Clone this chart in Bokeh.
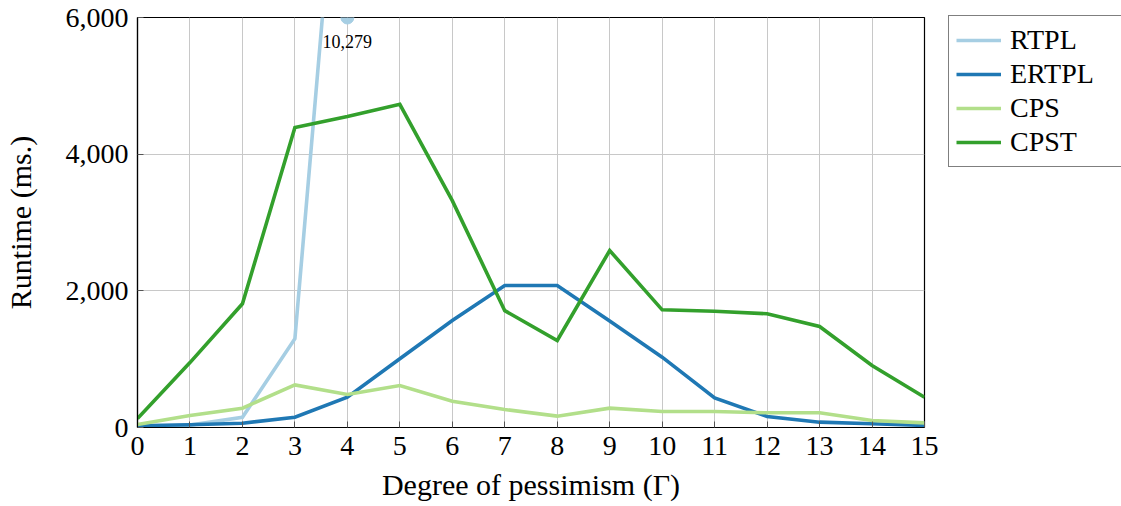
from bokeh.plotting import figure
from bokeh.models import Range1d, NumeralTickFormatter, FixedTicker, Legend, LegendItem, ColumnDataSource
from bokeh.embed import file_html
from bokeh.resources import INLINE
from bokeh.core.properties import value

# ---- data ----
gamma = list(range(16))
rtpl_gamma = [0, 1, 2, 3, 4]
rtpl = [10, 35, 150, 1300, 10279]
ertpl = [25, 40, 63, 151, 443, 1005, 1566, 2078, 2078, 1560, 1029, 434, 161, 78, 54, 30]
cps = [44, 175, 283, 624, 483, 615, 385, 263, 166, 283, 234, 234, 215, 215, 102, 68]
cpst = [130, 950, 1810, 4390, 4550, 4730, 3320, 1710, 1273, 2590, 1722, 1702, 1664, 1478, 907, 443]
y_ticks = [0, 2000, 4000, 6000]
x_ticks = list(range(16))
y_max = 6000

colors = {"RTPL": "#a6cee3", "ERTPL": "#1f78b4", "CPS": "#b2df8a", "CPST": "#33a02c"}
FONT = "Liberation Serif"

p = figure(width=1121, height=506, output_backend="svg", toolbar_location=None,
           x_range=Range1d(0, 15), y_range=Range1d(0, y_max),
           frame_width=787, frame_height=410,
           min_border_left=137, min_border_top=17, min_border_bottom=79, min_border_right=0)

p.outline_line_color = "black"
p.outline_line_width = 1.2
p.background_fill_color = "white"
p.border_fill_color = "white"

for ax in (p.xaxis[0], p.yaxis[0]):
    ax.axis_line_color = "black"
    ax.axis_line_width = 1.2
    ax.major_tick_in = 6
    ax.major_tick_out = 0
    ax.minor_tick_in = 0
    ax.minor_tick_out = 0
    ax.major_tick_line_color = "#555555"
    ax.major_label_text_font = FONT
    ax.major_label_text_font_size = "28px"
    ax.major_label_text_color = "black"
    ax.axis_label_text_font = FONT
    ax.axis_label_text_font_size = "30px"
    ax.axis_label_text_font_style = "normal"
    ax.axis_label_text_color = "black"

p.xaxis[0].ticker = FixedTicker(ticks=x_ticks)
p.yaxis[0].ticker = FixedTicker(ticks=y_ticks)
p.yaxis[0].formatter = NumeralTickFormatter(format="0,0")
p.xaxis[0].axis_label = "Degree of pessimism (Γ)"
p.yaxis[0].axis_label = "Runtime (ms.)"
p.xaxis[0].major_label_standoff = 9
p.yaxis[0].major_label_standoff = 9
p.xaxis[0].axis_label_standoff = 10
p.yaxis[0].axis_label_standoff = 26

p.xgrid.ticker = FixedTicker(ticks=x_ticks)
p.ygrid.ticker = FixedTicker(ticks=y_ticks)
p.xgrid.grid_line_color = "#c8c8c8"
p.ygrid.grid_line_color = "#c8c8c8"
p.xgrid.grid_line_width = 1
p.ygrid.grid_line_width = 1

lw = 3.6
r1 = p.line(rtpl_gamma, rtpl, line_color=colors["RTPL"], line_width=lw, line_join="miter")
r2 = p.line(gamma, ertpl, line_color=colors["ERTPL"], line_width=lw, line_join="miter")
r3 = p.line(gamma, cps, line_color=colors["CPS"], line_width=lw, line_join="miter")
r4 = p.line(gamma, cpst, line_color=colors["CPST"], line_width=lw, line_join="miter")

# clipped peak marker and its value label
peak_x = rtpl_gamma[-1]
peak_val = rtpl[-1]
src = ColumnDataSource(dict(x=[peak_x], y=[min(peak_val, y_max)], t=["{:,}".format(peak_val)]))
p.scatter("x", "y", source=src, size=13, fill_color=colors["RTPL"], line_color=colors["RTPL"])
p.text("x", "y", text="t", source=src, text_font=value(FONT), text_font_size="18px",
       text_align="center", text_baseline="middle", y_offset=24, text_color="black")

legend = Legend(items=[LegendItem(label="RTPL", renderers=[r1]),
                       LegendItem(label="ERTPL", renderers=[r2]),
                       LegendItem(label="CPS", renderers=[r3]),
                       LegendItem(label="CPST", renderers=[r4])],
                location=(24, 260),
                label_text_font="serif",
                label_text_font_size="28px",
                label_text_color="black")
legend.border_line_color = "black"
legend.border_line_width = 1.2
legend.background_fill_alpha = 1
legend.padding = 7
legend.spacing = 0
legend.margin = 20
legend.glyph_width = 45
legend.glyph_height = 34
legend.label_height = 34
legend.label_width = 105
legend.label_standoff = 9
p.add_layout(legend, "right")

open("out.html", "w").write(file_html(p, INLINE))
